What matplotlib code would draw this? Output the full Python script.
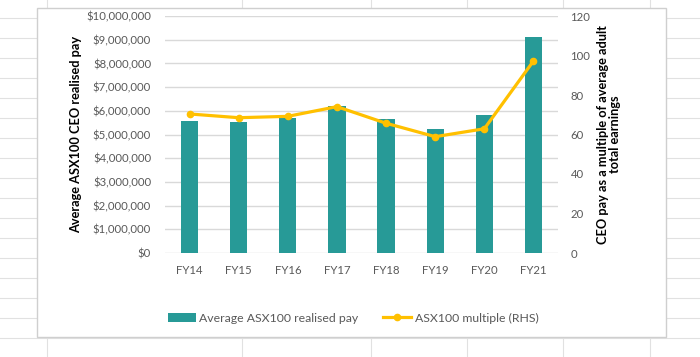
import matplotlib
matplotlib.use("Agg")
import matplotlib.pyplot as plt
from matplotlib.lines import Line2D
from matplotlib.patches import Rectangle, Patch
import numpy as np

plt.rcParams["font.family"] = ["Lato", "DejaVu Sans"]

years = ["FY14", "FY15", "FY16", "FY17", "FY18", "FY19", "FY20", "FY21"]
realised_pay = [5580000, 5530000, 5700000, 6200000, 5640000, 5230000, 5820000, 9130000]
multiple = [70.4, 68.5, 69.2, 74.1, 65.7, 58.9, 62.9, 97.2]

teal = "#279A97"
gold = "#FFC000"
tick_grey = "#595959"
grid_grey = "#D9D9D9"

W, H = 700, 357
fig = plt.figure(figsize=(7, 3.57), dpi=100, facecolor="white")

def fx(px):
    return px / W

def fy(py):
    return 1 - py / H

# spreadsheet cells behind the chart
for y in range(18, 340, 20):
    fig.add_artist(Line2D([0, 1], [fy(y), fy(y)], color="#E1E1E1", lw=0.8, zorder=0))
for x in [47, 242, 371, 467, 563, 650]:
    fig.add_artist(Line2D([fx(x), fx(x)], [0, 1], color="#E1E1E1", lw=0.8, zorder=0))

# chart area box
fig.add_artist(Rectangle((fx(37), fy(337)), fx(666) - fx(37), fy(8) - fy(337),
                         facecolor="white", edgecolor="#CFCFCF", lw=1.0, zorder=1))

ax = fig.add_axes([fx(165), fy(253), fx(558) - fx(165), fy(16) - fy(253)], zorder=2)
ax.patch.set_alpha(0)
x = np.arange(len(years))
ax.bar(x, realised_pay, width=0.35, color=teal, zorder=3)
ax.set_xlim(-0.5, len(years) - 0.5)
ax.set_ylim(0, 10000000)
ax.set_yticks(np.arange(0, 10000001, 1000000))
ax.set_yticklabels(["${:,.0f}".format(v) for v in np.arange(0, 10000001, 1000000)])
ax.set_xticks(x)
ax.set_xticklabels(years)
ax.yaxis.grid(True, color=grid_grey, lw=1.0, zorder=0)
ax.set_axisbelow(True)
for s in ax.spines.values():
    s.set_visible(False)
ax.tick_params(length=0, colors=tick_grey, labelsize=8.2)
ax.tick_params(axis="y", pad=10)
ax.tick_params(axis="x", pad=9)
ax.set_ylabel("Average ASX100 CEO realised pay", fontsize=9.2, fontweight="bold",
              color="black", labelpad=3)

ax2 = ax.twinx()
ax2.plot(x, multiple, color=gold, lw=2.3, marker="o", markersize=4.5, zorder=4)
ax2.set_ylim(0, 120)
ax2.set_yticks(range(0, 121, 20))
for s in ax2.spines.values():
    s.set_visible(False)
ax2.tick_params(length=0, colors=tick_grey, labelsize=8.2, pad=9)
ax2.set_ylabel("CEO pay as a multiple of average adult\ntotal earnings", fontsize=9.2,
               fontweight="bold", color="black", labelpad=5, linespacing=0.95)

handles = [Patch(facecolor=teal, edgecolor="none"),
           Line2D([], [], color=gold, lw=2.3, marker="o", markersize=4.5)]
fig.legend(handles, ["Average ASX100 realised pay", "ASX100 multiple (RHS)"],
           loc="center", bbox_to_anchor=(fx(353), fy(318)), ncol=2, frameon=False,
           fontsize=8.8, labelcolor=tick_grey, handlelength=2.3, columnspacing=2.0,
           handletextpad=0.3)

fig.savefig("out.png", dpi=100, facecolor="white")
